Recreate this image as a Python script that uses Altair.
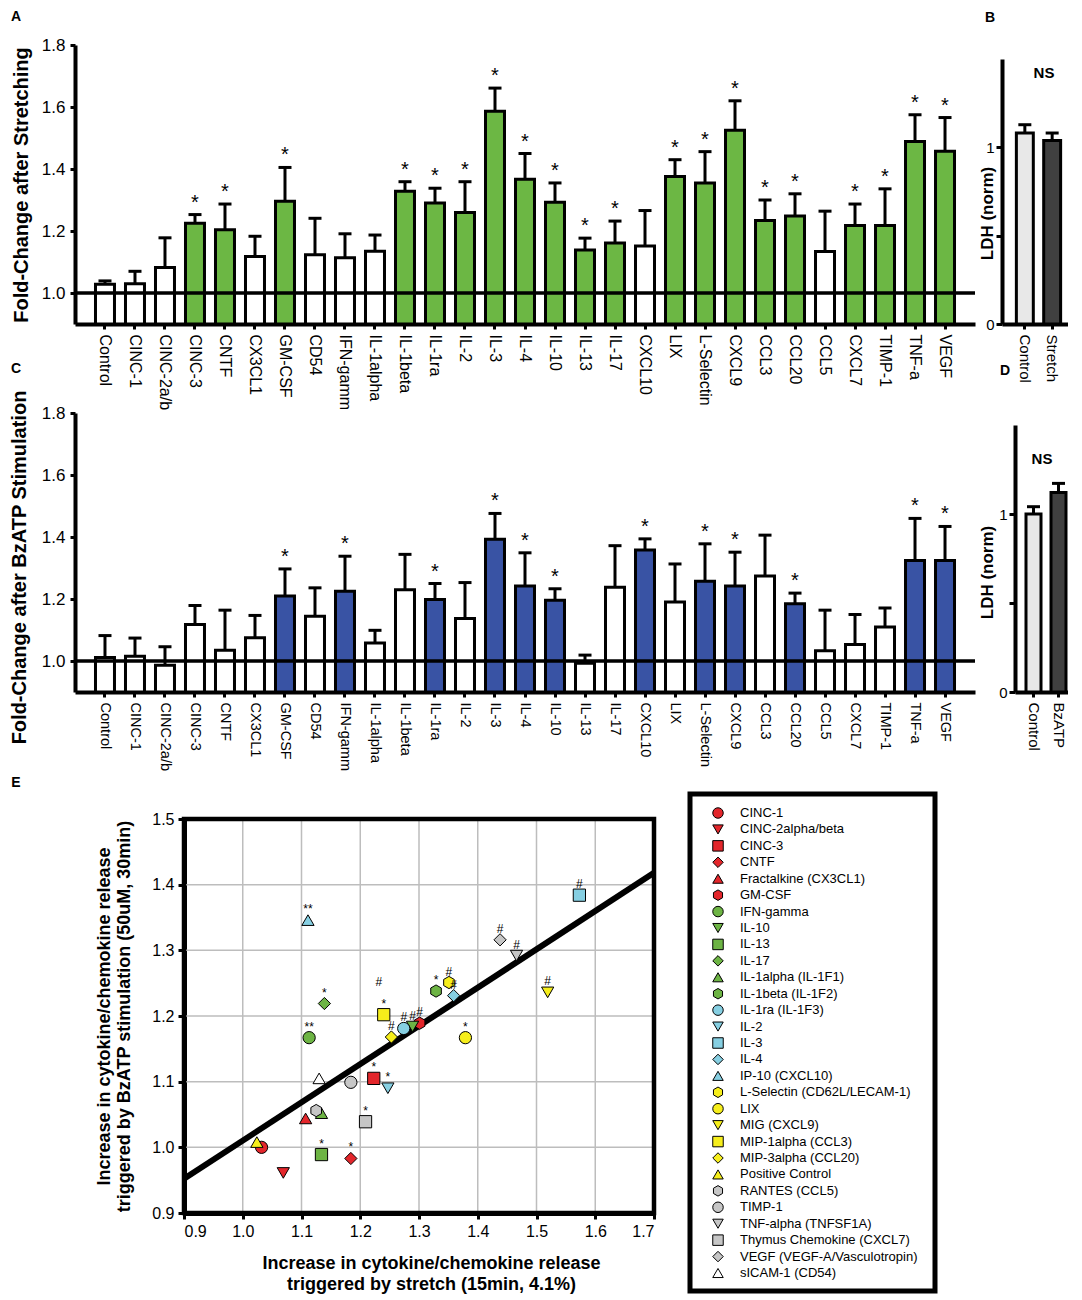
import altair as alt
import pandas as pd

FONT = "Liberation Sans"
GREEN = "#6cb744"
BLUE = "#3953a4"
HEX = "M0,-1L0.866,-0.5L0.866,0.5L0,1L-0.866,0.5L-0.866,-0.5Z"

# ---------------- data: panels A and C ----------------
cats = ["Control", "CINC-1", "CINC-2a/b", "CINC-3", "CNTF", "CX3CL1", "GM-CSF", "CD54",
        "IFN-gamm", "IL-1alpha", "IL-1beta", "IL-1ra", "IL-2", "IL-3", "IL-4", "IL-10",
        "IL-13", "IL-17", "CXCL10", "LIX", "L-Selectin", "CXCL9", "CCL3", "CCL20", "CCL5",
        "CXCL7", "TIMP-1", "TNF-a", "VEGF"]
stretch_mean = [1.028, 1.030, 1.082, 1.225, 1.204, 1.118, 1.296, 1.123, 1.114, 1.135, 1.328,
                1.290, 1.260, 1.586, 1.367, 1.293, 1.139, 1.161, 1.152, 1.376, 1.355, 1.525,
                1.234, 1.248, 1.134, 1.218, 1.218, 1.489, 1.457]
stretch_sem = [0.011, 0.040, 0.096, 0.028, 0.083, 0.065, 0.109, 0.118, 0.077, 0.052, 0.031,
               0.048, 0.099, 0.075, 0.083, 0.062, 0.038, 0.071, 0.114, 0.054, 0.101, 0.095,
               0.066, 0.072, 0.130, 0.069, 0.118, 0.086, 0.109]
stretch_sig = [0, 0, 0, 1, 1, 0, 1, 0, 0, 0, 1, 1, 1, 1, 1, 1, 1, 1, 0, 1, 1, 1, 1, 1, 0, 1, 1, 1, 1]

bz_mean = [1.011, 1.015, 0.986, 1.118, 1.035, 1.075, 1.210, 1.144, 1.225, 1.058, 1.230, 1.198,
           1.137, 1.393, 1.242, 1.196, 0.993, 1.238, 1.358, 1.190, 1.257, 1.242, 1.274, 1.185,
           1.033, 1.053, 1.110, 1.324, 1.324]
bz_sem = [0.071, 0.059, 0.060, 0.061, 0.129, 0.072, 0.087, 0.092, 0.113, 0.041, 0.114, 0.052,
          0.116, 0.083, 0.107, 0.037, 0.026, 0.134, 0.036, 0.123, 0.121, 0.109, 0.132, 0.034,
          0.131, 0.097, 0.061, 0.136, 0.110]
bz_sig = [0, 0, 0, 0, 0, 0, 1, 0, 1, 0, 0, 1, 0, 1, 1, 1, 0, 0, 1, 0, 1, 1, 0, 1, 0, 0, 0, 1, 1]

# ---------------- data: panels B and D ----------------
ldh_b_cats = ["Control", "Stretch"]
ldh_b_mean = [1.081, 1.038]
ldh_b_sem = [0.047, 0.043]
ldh_d_cats = ["Control", "BzATP"]
ldh_d_mean = [1.000, 1.121]
ldh_d_sem = [0.041, 0.051]

# ---------------- data: panel E ----------------
sc_names = ["CINC-1", "CINC-2alpha/beta", "CINC-3", "CNTF", "Fractalkine (CX3CL1)", "GM-CSF",
            "IFN-gamma", "IL-10", "IL-13", "IL-17", "IL-1alpha (IL-1F1)", "IL-1beta (IL-1F2)",
            "IL-1ra (IL-1F3)", "IL-2", "IL-3", "IL-4", "IP-10 (CXCL10)",
            "L-Selectin (CD62L/LECAM-1)", "LIX", "MIG (CXCL9)", "MIP-1alpha (CCL3)",
            "MIP-3alpha (CCL20)", "Positive Control", "RANTES (CCL5)", "TIMP-1",
            "TNF-alpha (TNFSF1A)", "Thymus Chemokine (CXCL7)", "VEGF (VEGF-A/Vasculotropin)",
            "sICAM-1 (CD54)"]
sc_x = [1.032, 1.069, 1.223, 1.184, 1.107, 1.301, 1.113, 1.289, 1.134, 1.139, 1.134, 1.329,
        1.274, 1.247, 1.573, 1.359, 1.111, 1.351, 1.379, 1.519, 1.240, 1.253, 1.024, 1.125,
        1.184, 1.466, 1.209, 1.438, 1.130]
sc_y = [1.000, 0.961, 1.105, 0.983, 1.044, 1.189, 1.167, 1.184, 0.989, 1.219, 1.052, 1.238,
        1.181, 1.090, 1.384, 1.231, 1.346, 1.251, 1.167, 1.236, 1.202, 1.168, 1.008, 1.056,
        1.099, 1.292, 1.039, 1.316, 1.105]
sc_label = ["", "", "*", "*", "", "#", "**", "#", "*", "*", "", "*", "#", "*", "#", "#", "**",
            "#", "*", "#", "*", "#", "", "", "", "#", "*", "#", ""]
sc_label2 = ["", "", "", "", "", "", "", "", "", "", "", "", "", "", "", "", "", "", "", "",
             "#", "", "", "", "", "", "", "", ""]
fit_x = [0.9, 1.7]
fit_y = [0.952, 1.418]
x_ticks = [0.9, 1.0, 1.1, 1.2, 1.3, 1.4, 1.5, 1.6, 1.7]
y_ticks = [0.9, 1.0, 1.1, 1.2, 1.3, 1.4, 1.5]

RED, LG, LB, YE, GR, WH = "#e3262b", "#6db444", "#86cfe2", "#f6ee1b", "#c6c6c6", "#ffffff"
sc_fill = [RED] * 6 + [LG] * 6 + [LB] * 5 + [YE] * 6 + [GR] * 5 + [WH]
sc_shape = (["circle", "triangle-down", "square", "diamond", "triangle-up", HEX] * 2
            + ["circle", "triangle-down", "square", "diamond", "triangle-up"]
            + [HEX, "circle", "triangle-down", "square", "diamond", "triangle-up"]
            + [HEX, "circle", "triangle-down", "square", "diamond"]
            + ["triangle-up"])

one = pd.DataFrame({"k": [0]})


def anchor(x0, y0):
    return alt.Chart(one).mark_rule(color="transparent", strokeWidth=0.01).encode(
        x=alt.value(x0), x2=alt.value(x0 + 1), y=alt.value(y0), y2=alt.value(y0 + 1))


def note(t, x, y, size=14, weight="bold"):
    return alt.Chart(one).mark_text(text=t, font=FONT, fontSize=size, fontWeight=weight,
                                    align="center", baseline="middle").encode(
        x=alt.value(x), y=alt.value(y))


def bar_panel(mean, sem, sig, color, ytitle, xlab_size, ylab_size, title_x, title_y, h):
    df = pd.DataFrame({"cat": cats, "mean": mean,
                       "upper": [m + s for m, s in zip(mean, sem)], "sig": sig,
                       "star": ["*" if s else "" for s in sig]})
    x = alt.X("cat:N", sort=cats, scale=alt.Scale(paddingInner=0.367, paddingOuter=0.683),
              axis=alt.Axis(title=None, orient="bottom", labelAngle=90, labelAlign="left",
                            labelBaseline="middle", labelFontSize=xlab_size, labelPadding=5,
                            tickSize=5, tickWidth=3, domainWidth=4))
    ys = alt.Scale(domain=[0.9, 1.8], nice=False, zero=False)
    yax = alt.Axis(title=ytitle, orient="left", values=[1.0, 1.2, 1.4, 1.6, 1.8], format=".1f",
                   labelFontSize=ylab_size, tickSize=5, tickWidth=3, domainWidth=4,
                   labelPadding=5, titleFontSize=20, titleFontWeight="bold", titleAngle=-90,
                   titleX=title_x, titleY=title_y, titleAlign="center", titleBaseline="middle")
    base = alt.Chart(df)
    bars = base.mark_bar(stroke="black", strokeWidth=3).encode(
        x=x, y=alt.Y("mean:Q", scale=ys, axis=yax), y2=alt.datum(0.9),
        fill=alt.condition("datum.sig == 1", alt.value(color), alt.value("white")))
    err = base.mark_rule(color="black", strokeWidth=3).encode(x=x, y="mean:Q", y2="upper:Q")
    cap = base.mark_tick(color="black", thickness=3, size=13, opacity=1).encode(x=x, y="upper:Q")
    stars = base.mark_text(font=FONT, fontSize=20, dy=-6, baseline="alphabetic").encode(
        x=x, y="upper:Q", text="star:N")
    ref = alt.Chart(pd.DataFrame({"r": [1.0]})).mark_rule(color="black", strokeWidth=3.5).encode(
        y="r:Q")
    return alt.layer(bars, err, cap, stars, ref)


def ldh_panel(lcats, mean, sem, xrange, yrange, pin, pout, title_x, title_y):
    df = pd.DataFrame({"cat": lcats, "mean": mean,
                       "upper": [m + s for m, s in zip(mean, sem)]})
    x = alt.X("cat:N", sort=lcats,
              scale=alt.Scale(range=xrange, paddingInner=pin, paddingOuter=pout),
              axis=alt.Axis(title=None, orient="bottom", labelAngle=90, labelAlign="left",
                            labelBaseline="middle", labelFontSize=15, labelPadding=5,
                            tickSize=5, tickWidth=3, domainWidth=4))
    ys = alt.Scale(domain=[0, 1.5], nice=False, range=yrange)
    yax = alt.Axis(title="LDH (norm)", orient="left", offset=-xrange[0], values=[0, 0.5, 1],
                   labelExpr="datum.value == 0.5 ? '' : format(datum.value, 'd')",
                   labelFontSize=15, tickSize=6, tickWidth=3, domainWidth=4, labelPadding=2,
                   titleFontSize=17, titleFontWeight="bold", titleAngle=-90, titleX=title_x,
                   titleY=title_y, titleAlign="center", titleBaseline="middle")
    base = alt.Chart(df)
    bars = base.mark_bar(stroke="black", strokeWidth=3).encode(
        x=x, y=alt.Y("mean:Q", scale=ys, axis=yax),
        fill=alt.condition(f"datum.cat == '{lcats[0]}'", alt.value("#e8e8e8"),
                           alt.value("#404040")))
    err = base.mark_rule(color="black", strokeWidth=3).encode(x=x, y="mean:Q", y2="upper:Q")
    cap = base.mark_tick(color="black", thickness=3, size=13, opacity=1).encode(x=x, y="upper:Q")
    return alt.layer(bars, err, cap)


# ---------------- row 1: A + B ----------------
A = bar_panel(stretch_mean, stretch_sem, stretch_sig, GREEN, "Fold-Change after Stretching",
              16, 17, -54, 139.5, 279)
B = ldh_panel(ldh_b_cats, ldh_b_mean, ldh_b_sem, [927, 1000], [279, 14], 0.38, 0.526, -15, 168)
row1 = alt.layer(A, B, anchor(-65, -36), note("A", -59, -28), note("B", 915, -27),
                 note("NS", 969, 28, size=15)).resolve_scale(
    x="independent", y="independent").properties(width=900, height=279)

# ---------------- row 2: C + D ----------------
C = bar_panel(bz_mean, bz_sem, bz_sig, BLUE, "Fold-Change after BzATP Stimulation",
              14.5, 17, -56, 154, 279)
D = ldh_panel(ldh_d_cats, ldh_d_mean, ldh_d_sem, [940, 1002], [279, 12], 0.4, 0.44, -28, 159)
row2 = alt.layer(C, D, note("C", -59, -44), note("D", 930, -42),
                 note("NS", 967, 46, size=15)).resolve_scale(
    x="independent", y="independent").properties(width=900, height=279)

# ---------------- row 3: E scatter + legend ----------------
df_e = pd.DataFrame({"name": sc_names, "x": sc_x, "y": sc_y, "lab": sc_label, "lab2": sc_label2})
xs = alt.Scale(domain=[0.9, 1.7], nice=False, zero=False, range=[109, 579])
ys = alt.Scale(domain=[0.9, 1.5], nice=False, zero=False, range=[432, 38])
xax = alt.Axis(values=x_ticks, format=".1f", orient="bottom", labelFontSize=16, tickSize=6,
               tickWidth=3, domainWidth=5, labelPadding=4,
               title=["Increase in cytokine/chemokine release", "triggered by stretch (15min, 4.1%)"],
               titleFontSize=18, titleFontWeight="bold", titleX=356, titleY=41,
               titleBaseline="top", titleAlign="center", titleLineHeight=21)
yax = alt.Axis(values=y_ticks, format=".1f", orient="left", offset=-109, labelFontSize=16,
               tickSize=6, tickWidth=3, domainWidth=5, labelPadding=4,
               title=["Increase in cytokine/chemokine release",
                      "triggered by BzATP stimulation (50uM, 30min)"],
               titleFontSize=18, titleFontWeight="bold", titleAngle=-90, titleX=-89, titleY=235,
               titleBaseline="top", titleAlign="center", titleLineHeight=20)
fill_enc = alt.Fill("name:N", scale=alt.Scale(domain=sc_names, range=sc_fill), legend=None)
shape_enc = alt.Shape("name:N", scale=alt.Scale(domain=sc_names, range=sc_shape), legend=None)

gx = alt.Chart(pd.DataFrame({"t": x_ticks})).mark_rule(color="#bdbdbd", strokeWidth=1.5).encode(
    x=alt.X("t:Q", scale=xs, axis=xax), y=alt.datum(0.9, scale=ys), y2=alt.datum(1.5))
gy = alt.Chart(pd.DataFrame({"t": y_ticks})).mark_rule(color="#bdbdbd", strokeWidth=1.5).encode(
    y=alt.Y("t:Q", scale=ys, axis=yax), x=alt.datum(0.9), x2=alt.datum(1.7))
box = alt.Chart(one).mark_rect(fill="white", fillOpacity=0, stroke="black", strokeWidth=4.5).encode(
    x=alt.datum(0.9), x2=alt.datum(1.7), y=alt.datum(0.9), y2=alt.datum(1.5))
fit = alt.Chart(pd.DataFrame({"x": fit_x, "y": fit_y})).mark_line(
    color="black", strokeWidth=6).encode(x="x:Q", y="y:Q")
pts = alt.Chart(df_e).mark_point(filled=True, size=150, stroke="black", strokeWidth=1,
                                 opacity=1).encode(
    x="x:Q", y="y:Q", fill=fill_enc, shape=shape_enc)
labs = alt.Chart(df_e).mark_text(font=FONT, fontSize=12, dy=-7, baseline="alphabetic").encode(
    x="x:Q", y="y:Q", text="lab:N")
labs2 = alt.Chart(df_e).mark_text(font=FONT, fontSize=12, dy=-29, dx=-5,
                                  baseline="alphabetic").encode(
    x="x:Q", y="y:Q", text="lab2:N")
E = alt.layer(gx, gy, box, fit, pts, labs, labs2)

df_l = pd.DataFrame({"idx": list(range(len(sc_names))), "name": sc_names})
ly = alt.Y("idx:Q", scale=alt.Scale(domain=[0, 28], range=[32, 492], nice=False, zero=False),
           axis=None)
frame = alt.Chart(one).mark_rect(fill="white", fillOpacity=0, stroke="black",
                                 strokeWidth=5).encode(
    x=alt.value(615), x2=alt.value(860), y=alt.value(13), y2=alt.value(510))
lpts = alt.Chart(df_l).mark_point(filled=True, size=110, stroke="black", strokeWidth=1,
                                  opacity=1).encode(
    x=alt.value(643), y=ly, fill=fill_enc, shape=shape_enc)
ltxt = alt.Chart(df_l).mark_text(font=FONT, fontSize=13, align="left", baseline="middle").encode(
    x=alt.value(665), y=ly, text="name:N")
Lg = alt.layer(frame, lpts, ltxt)

row3 = alt.layer(E, Lg, note("E", -59, 2)).resolve_scale(
    x="independent", y="independent").properties(width=579, height=432)

chart = alt.vconcat(row1, row2, row3, spacing=89, bounds="flush").properties(
    padding={"left": 0, "top": 0, "right": 0, "bottom": 0}
).configure_view(strokeWidth=0).configure_axis(
    labelFont=FONT, titleFont=FONT, labelColor="black", titleColor="black",
    domainColor="black", tickColor="black", grid=False
).configure_text(font=FONT, color="black")

chart.save("out.html", embed_options={"renderer": "svg", "actions": False})
